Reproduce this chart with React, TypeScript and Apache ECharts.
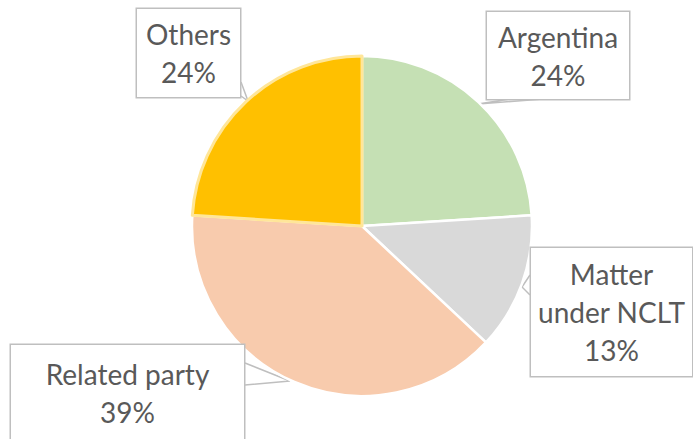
import React, { useEffect, useRef } from "react";
import * as echarts from "echarts";

const categories = ["Argentina", "Matter under NCLT", "Related party", "Others"];
const values = [24, 13, 39, 24];
const labelTexts = ["Argentina\n24%", "Matter\nunder NCLT\n13%", "Related party\n39%", "Others\n24%"];
const colors = ["#C5E0B4", "#D9D9D9", "#F8CBAD", "#FFC000"];

// label box centers / sizes and callout points (layout only)
const boxes = [
  { cx: 558, cy: 55.5, w: 144, h: 87, line: [[510, 99], [478, 104], [543, 99]] },
  { cx: 611.5, cy: 312, w: 163, h: 128, line: [[530, 275], [522, 287], [530, 295]] },
  { cx: 127.5, cy: 392.5, w: 235, h: 95, line: [[245, 363], [290, 381], [245, 385]] },
  { cx: 188.5, cy: 53, w: 105, h: 88, line: [[241, 82], [248, 101], [241, 96]] },
];

const LH = 38;

export default function App() {
  const ref = useRef<HTMLDivElement>(null);
  useEffect(() => {
    document.body.style.margin = "0";
    const chart = echarts.init(ref.current!, null, { renderer: "svg" });
    const data = categories.map((name, i) => {
      const lines = labelTexts[i].split("\n").length;
      const b = boxes[i];
      const pv = (b.h - lines * LH) / 2;
      return {
        name,
        value: values[i],
        itemStyle:
          i === 3
            ? { color: colors[i], borderColor: "#FFE699", borderWidth: 3 }
            : { color: colors[i], borderColor: "#FFFFFF", borderWidth: 2.5 },
        label: {
          formatter: labelTexts[i],
          width: b.w - 4,
          padding: [pv, 1, pv, 1],
        },
      };
    });
    chart.setOption({
      animation: false,
      backgroundColor: "#FFFFFF",
      series: [
        {
          type: "pie",
          center: [362, 226],
          radius: 170,
          startAngle: 90,
          clockwise: true,
          avoidLabelOverlap: false,
          data,
          label: {
            show: true,
            position: "outside",
            color: "#595959",
            fontFamily: "Lato",
            fontSize: 28,
            lineHeight: LH,
            align: "center",
            backgroundColor: "#FFFFFF",
            borderColor: "#BFBFBF",
            borderWidth: 1.5,
          },
          labelLine: {
            show: true,
            length: 10,
            length2: 10,
            lineStyle: { color: "#BFBFBF", width: 1.5 },
          },
          labelLayout: (params: any) => {
            const b = boxes[params.dataIndex];
            return {
              x: b.cx,
              y: b.cy,
              align: "center",
              verticalAlign: "middle",
              labelLinePoints: b.line,
            };
          },
          emphasis: { disabled: true },
        },
      ],
    });
    return () => chart.dispose();
  }, []);
  return (
    <div
      ref={ref}
      style={{ position: "absolute", left: 0, top: 0, width: 693, height: 439 }}
    />
  );
}
